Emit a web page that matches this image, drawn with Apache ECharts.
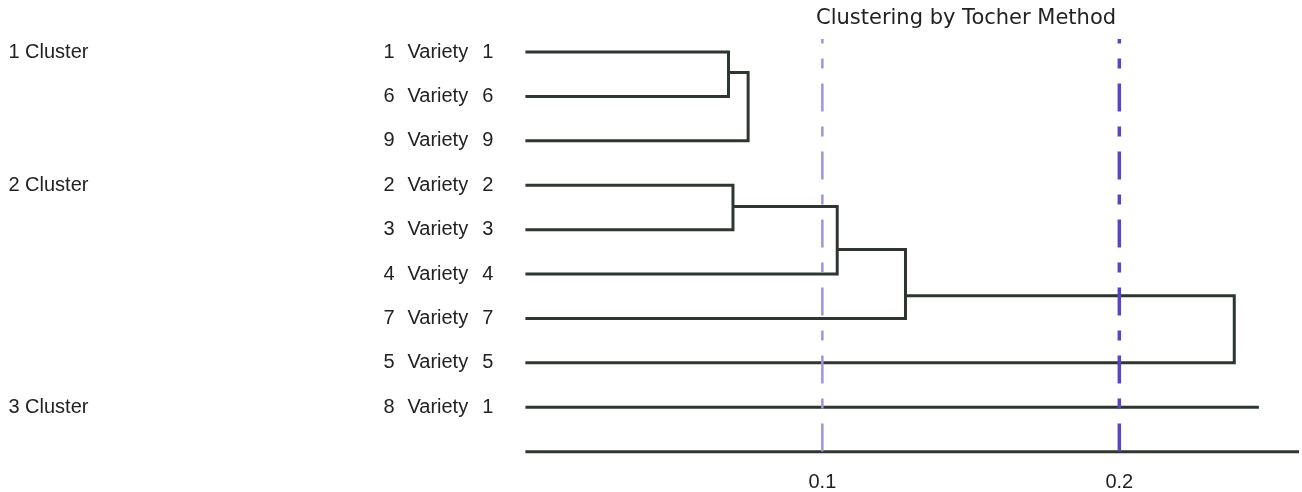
<!DOCTYPE html>
<html>
<head>
<meta charset="utf-8">
<style>html,body{margin:0;padding:0;background:#fff;overflow:hidden}#c{width:1302px;height:492px}</style>
<script src="https://cdn.jsdelivr.net/npm/echarts@6/dist/echarts.min.js"></script>
</head>
<body>
<div id="c"></div>
<script>
// ---- data ----
var titleText = 'Clustering by Tocher Method';
var leafIds = ['1', '6', '9', '2', '3', '4', '7', '5', '8'];
var leafWord = 'Variety';
var leafSuffix = ['1', '6', '9', '2', '3', '4', '7', '5', '1'];
var clusterRows = [1, 4, 9];
var clusterNames = ['1 Cluster', '2 Cluster', '3 Cluster'];
// merges: [childA, childB, height, joinRow]; leaves are 0..8, merges get ids 9,10,...
var merges = [
  [0, 1, 0.0684, 1.46],
  [9, 2, 0.0750, 2.0],
  [3, 4, 0.0699, 4.48],
  [11, 5, 0.1050, 5.45],
  [12, 6, 0.1280, 6.49],
  [13, 7, 0.2387, 6.9]
];
var singletonTails = [[8, 0.247]];   // leaf index, height of tail
var thresholds = [0.1, 0.2];
var xTicks = [0.1, 0.2];
var xMax = 0.2605;
var yMax = 10.3;
var baseRow = 10;

// ---- build geometry in data units ----
var nodeX = [], nodeY = [];
for (var i = 0; i < leafIds.length; i++) { nodeX.push(0); nodeY.push(i + 1); }
var linkData = [];
merges.forEach(function (m) {
  var a = m[0], b = m[1], h = m[2];
  linkData.push({coords: [[nodeX[a], nodeY[a]], [h, nodeY[a]], [h, nodeY[b]], [nodeX[b], nodeY[b]]]});
  nodeX.push(h); nodeY.push(m[3]);
});
singletonTails.forEach(function (t) {
  linkData.push({coords: [[nodeX[t[0]], nodeY[t[0]]], [t[1], nodeY[t[0]]]]});
});
var baseData = [{coords: [[0, baseRow], [xMax, baseRow]]}];

var dashTop = 0.707, dashBottom = 10.18;
var dashColors = ['#a392de', '#5944c4'];
var dashWidths = [2.5, 3.5];
var dashSeries = thresholds.map(function (t, k) {
  return {
    type: 'line', data: [[t, dashTop], [t, dashBottom]], symbol: 'none', clip: false, z: 5,
    lineStyle: {color: dashColors[k], width: dashWidths[k], type: [28, 15, 10, 15], dashOffset: 23.6, cap: 'butt'},
    silent: true
  };
});

var chart = echarts.init(document.getElementById('c'));
chart.setOption({
  animation: false,
  backgroundColor: '#fff',
  title: {
    text: titleText, left: 816, top: 8, padding: 0,
    textStyle: {fontFamily: 'DejaVu Sans', fontSize: 21, fontWeight: 'normal', color: '#222'}
  },
  grid: {left: 525.4, right: 0, top: 7.6, bottom: 492 - (7.6 + 44.44 * yMax)},
  xAxis: {
    type: 'value', min: 0, max: xMax, interval: 0.1,
    axisLine: {show: false}, axisTick: {show: false}, splitLine: {show: false},
    axisLabel: {
      margin: 7, color: '#222', fontFamily: 'Liberation Sans', fontSize: 20,
      formatter: function (v) {
        for (var i = 0; i < xTicks.length; i++) if (Math.abs(v - xTicks[i]) < 1e-9) return String(xTicks[i]);
        return '';
      }
    }
  },
  yAxis: [{
    type: 'value', min: 0, max: yMax, interval: 1, inverse: true,
    axisLine: {show: false}, axisTick: {show: false}, splitLine: {show: false},
    axisLabel: {
      align: 'left', margin: 142, color: '#222', fontFamily: 'Liberation Sans', fontSize: 20,
      formatter: function (v) {
        var i = Math.round(v) - 1;
        if (Math.abs(v - Math.round(v)) > 1e-6 || i < 0 || i >= leafIds.length) return '';
        return '{n|' + leafIds[i] + '}{v|' + leafWord + '}{m|' + leafSuffix[i] + '}';
      },
      rich: {
        n: {width: 24, align: 'left', fontFamily: 'Liberation Sans', fontSize: 20, color: '#222'},
        v: {width: 70, align: 'left', fontFamily: 'Liberation Sans', fontSize: 20, color: '#222'},
        m: {width: 16, align: 'right', fontFamily: 'Liberation Sans', fontSize: 20, color: '#222'}
      }
    }
  }, {
    type: 'value', min: 0, max: yMax, interval: 1, inverse: true, position: 'left',
    axisLine: {show: false}, axisTick: {show: false}, splitLine: {show: false},
    axisLabel: {
      align: 'left', margin: 517, color: '#222', fontFamily: 'Liberation Sans', fontSize: 20,
      formatter: function (v) {
        var k = clusterRows.indexOf(Math.round(v));
        if (Math.abs(v - Math.round(v)) > 1e-6 || k < 0) return '';
        return clusterNames[k];
      }
    }
  }],
  series: [
    {
      type: 'lines', coordinateSystem: 'cartesian2d', polyline: true, z: 3,
      lineStyle: {color: '#2d372f', width: 3, opacity: 1}, data: linkData, silent: true
    },
    {
      type: 'lines', coordinateSystem: 'cartesian2d', polyline: true, z: 3,
      lineStyle: {color: '#2d372f', width: 3, opacity: 1}, data: baseData, silent: true
    }
  ].concat(dashSeries)
});
</script>
</body>
</html>
